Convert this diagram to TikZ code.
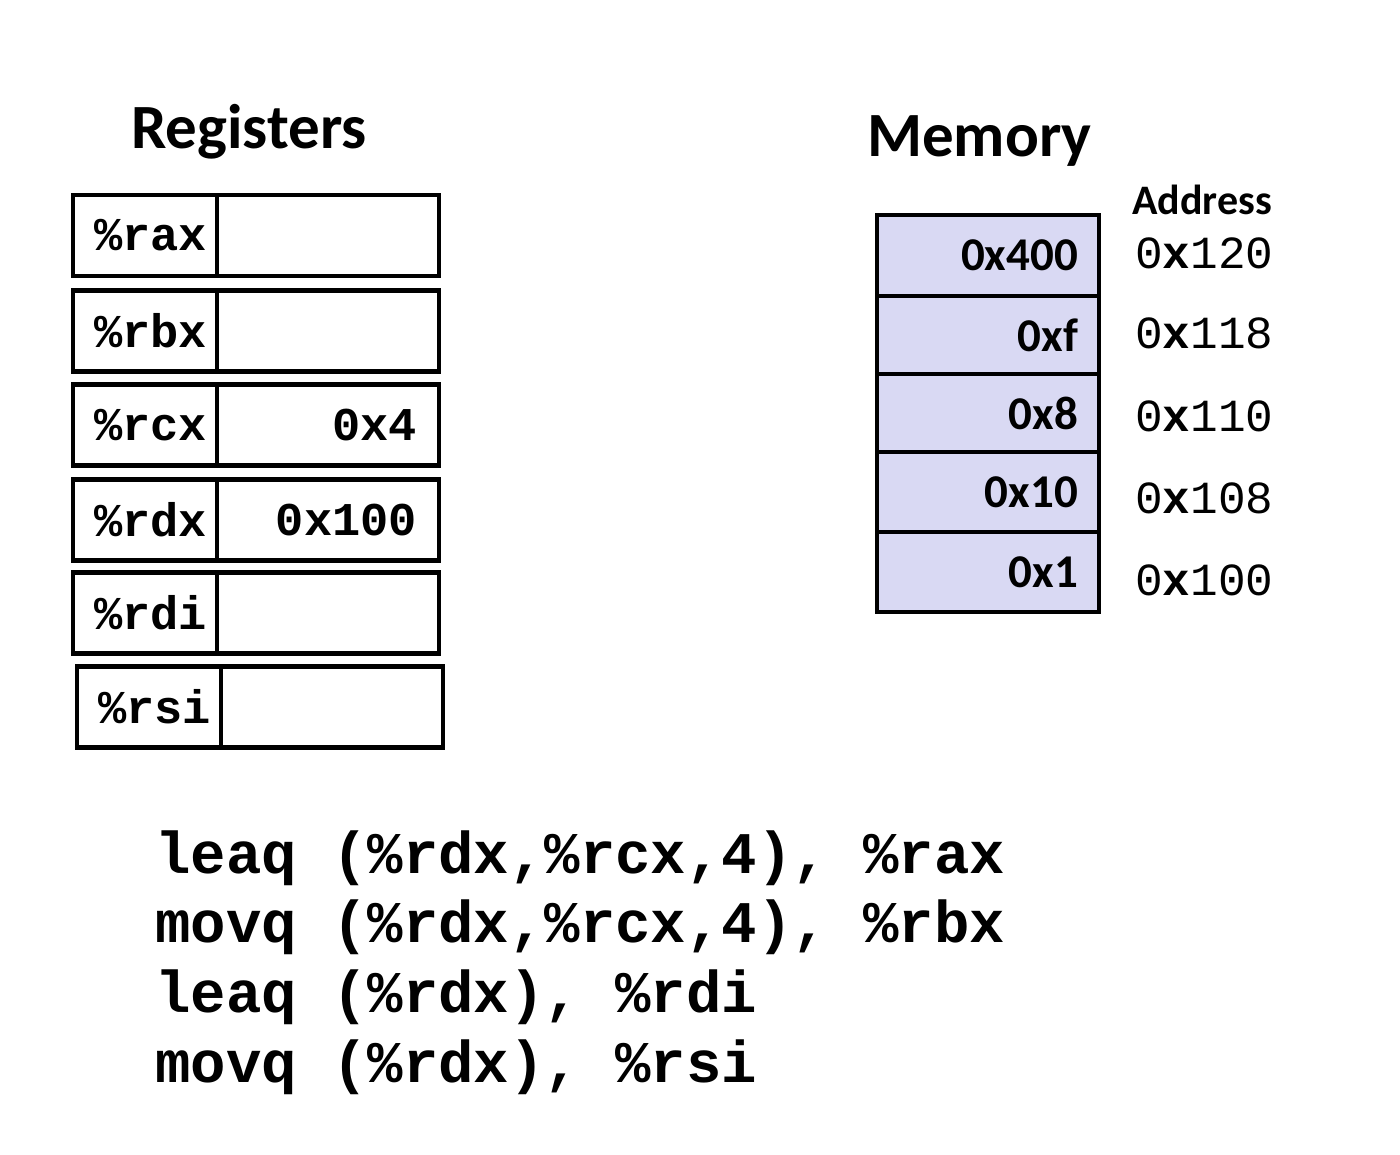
\documentclass[tikz,border=0pt]{standalone}
\usepackage{fontspec}
\setmainfont{Carlito}
\setmonofont{Liberation Mono}
\definecolor{memfill}{RGB}{217,217,243}
\begin{document}
\begin{tikzpicture}[x=1pt,y=-1pt,
  cell/.style={draw, line width=4.5pt, outer sep=0pt, minimum height=81pt, inner ysep=0pt},
  regname/.style={cell, text width=124pt, inner xsep=10pt, align=right,
    font=\fontsize{47}{50}\selectfont\ttfamily\bfseries},
  regval/.style={cell, text width=178pt, inner xsep=22pt, align=right,
    font=\fontsize{47}{50}\selectfont\ttfamily\bfseries},
  memcell/.style={draw, line width=4.5pt, fill=memfill, outer sep=0pt, inner ysep=0pt,
    text width=180pt, inner xsep=21pt, align=right,
    font=\fontsize{47}{50}\selectfont\bfseries},
  title/.style={anchor=base west, inner sep=0pt, font=\fontsize{63}{70}\selectfont\bfseries},
  addr/.style={anchor=base west, inner sep=0pt, font=\fontsize{46}{50}\selectfont\ttfamily},
  code/.style={anchor=base west, inner sep=0pt, font=\fontsize{59}{70}\selectfont\ttfamily\bfseries}]
\useasboundingbox (0,0) rectangle (1400,1154);

% titles
\node[title] (regtitle) at (131,148) {Registers};
\node[title] (memtitle) at (867,156) {Memory};
\node[title, font=\fontsize{42}{48}\selectfont\bfseries] (addrtitle) at (1132,214) {Address};

% registers
\node[regname] (raxn) at (145,235.5) {\%rax};
\node[regval, anchor=west] (raxv) at (raxn.east) {};
\node[regname] (rbxn) at (145,331) {\%rbx};
\node[regval, anchor=west] (rbxv) at (rbxn.east) {};
\node[regname] (rcxn) at (145,425) {\%rcx};
\node[regval, anchor=west] (rcxv) at (rcxn.east) {0x4};
\node[regname] (rdxn) at (145,520) {\%rdx};
\node[regval, anchor=west] (rdxv) at (rdxn.east) {0x100};
\node[regname] (rdin) at (145,613) {\%rdi};
\node[regval, anchor=west] (rdiv) at (rdin.east) {};
\node[regname] (rsin) at (149,707) {\%rsi};
\node[regval, anchor=west] (rsiv) at (rsin.east) {};

% memory
\node[memcell, minimum height=81pt, yshift=1pt] (m120) at (988,256.5) {0x400};
\node[memcell, minimum height=78pt, anchor=north] (m118) at (m120.south) {0xf};
\node[memcell, minimum height=78pt, anchor=north] (m110) at (m118.south) {0x8};
\node[memcell, minimum height=80pt, anchor=north] (m108) at (m110.south) {0x10};
\node[memcell, minimum height=80pt, anchor=north] (m100) at (m108.south) {0x1};

% addresses
\node[addr] (a120) at (1135,268) {0{\bfseries x}120};
\node[addr] (a118) at (1135,348) {0{\bfseries x}118};
\node[addr] (a110) at (1135,431) {0{\bfseries x}110};
\node[addr] (a108) at (1135,513) {0{\bfseries x}108};
\node[addr] (a100) at (1135,595) {0{\bfseries x}100};

% code
\node[code] (c1) at (155,873) {leaq (\%rdx,\%rcx,4), \%rax};
\node[code] (c2) at (155,942) {movq (\%rdx,\%rcx,4), \%rbx};
\node[code] (c3) at (155,1012) {leaq (\%rdx), \%rdi};
\node[code] (c4) at (155,1082) {movq (\%rdx), \%rsi};
\end{tikzpicture}
\end{document}
